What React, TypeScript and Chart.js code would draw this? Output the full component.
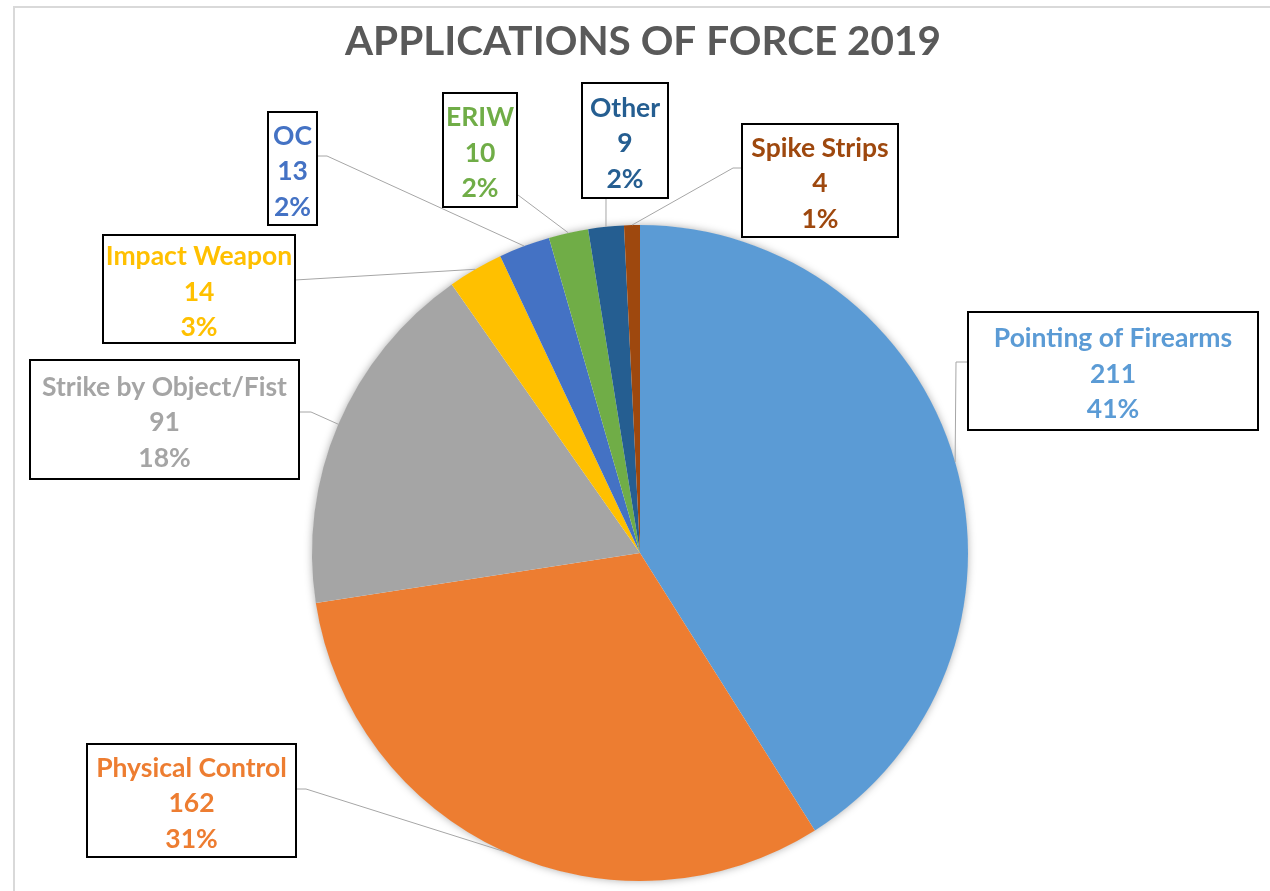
import React, { useEffect, useRef } from "react";
import { Chart, registerables } from "chart.js";

Chart.register(...registerables);

const title = "APPLICATIONS OF FORCE 2019";
const categories = [
  "Pointing of Firearms",
  "Physical Control",
  "Strike by Object/Fist",
  "Impact Weapon",
  "OC",
  "ERIW",
  "Other",
  "Spike Strips",
];
const counts = [211, 162, 91, 14, 13, 10, 9, 4];
const percentLabels = ["41%", "31%", "18%", "3%", "2%", "2%", "2%", "1%"];
const colors = [
  "#5B9BD5",
  "#ED7D31",
  "#A5A5A5",
  "#FFC000",
  "#4472C4",
  "#70AD47",
  "#255E91",
  "#9E480E",
];

// label box layout (position of each callout box and its leader start / elbow)
const labelLayout = [
  { x: 968, y: 312, w: 290, h: 118, from: [968, 362], elbow: [956, 362] },
  { x: 87, y: 744, w: 209, h: 113, from: [296, 789], elbow: [306, 789] },
  { x: 30, y: 360, w: 269, h: 119, from: [299, 412], elbow: [311, 412] },
  { x: 103, y: 235, w: 192, h: 108, from: [295, 280], elbow: null },
  { x: 268, y: 112, w: 49, h: 113, from: [317, 156], elbow: [327, 156] },
  { x: 443, y: 93, w: 74, h: 114, from: [518, 195], elbow: null },
  { x: 582, y: 83, w: 86, h: 115, from: [606, 198], elbow: null },
  { x: 742, y: 124, w: 156, h: 113, from: [742, 168], elbow: [733, 168] },
];

const FONT = "Lato, 'Open Sans', sans-serif";

const decorPlugin = {
  id: "decor",
  beforeDatasetsDraw(chart: any) {
    const meta = chart.getDatasetMeta(0);
    const arc = meta.data[0];
    if (!arc) return;
    const { x, y, outerRadius } = arc.getProps(["x", "y", "outerRadius"], true);
    const ctx = chart.ctx;
    ctx.save();
    ctx.shadowColor = "rgba(0,0,0,0.35)";
    ctx.shadowBlur = 9;
    ctx.fillStyle = "#ffffff";
    ctx.beginPath();
    ctx.arc(x, y, outerRadius - 0.5, 0, Math.PI * 2);
    ctx.fill();
    ctx.restore();
  },
  afterDraw(chart: any) {
    const ctx = chart.ctx;
    ctx.save();
    // frame
    ctx.strokeStyle = "#d9d9d9";
    ctx.lineWidth = 2;
    ctx.beginPath();
    ctx.moveTo(14, chart.height);
    ctx.lineTo(14, 7);
    ctx.lineTo(chart.width, 7);
    ctx.stroke();

    // title
    ctx.fillStyle = "#595959";
    ctx.font = `bold 40.5px ${FONT}`;
    ctx.textAlign = "center";
    ctx.textBaseline = "alphabetic";
    ctx.fillText(title, 643, 55);

    const meta = chart.getDatasetMeta(0);
    meta.data.forEach((arc: any, i: number) => {
      const L = labelLayout[i];
      const p = arc.getProps(["x", "y", "startAngle", "endAngle", "outerRadius"], true);
      const mid = (p.startAngle + p.endAngle) / 2;
      const ax = p.x + Math.cos(mid) * p.outerRadius;
      const ay = p.y + Math.sin(mid) * p.outerRadius;
      // leader line
      ctx.strokeStyle = "#a6a6a6";
      ctx.lineWidth = 1;
      ctx.beginPath();
      ctx.moveTo(L.from[0], L.from[1]);
      if (L.elbow) ctx.lineTo(L.elbow[0], L.elbow[1]);
      ctx.lineTo(ax, ay);
      ctx.stroke();
      // box
      ctx.fillStyle = "#ffffff";
      ctx.fillRect(L.x, L.y, L.w, L.h);
      ctx.strokeStyle = "#000000";
      ctx.lineWidth = 2;
      ctx.strokeRect(L.x, L.y, L.w, L.h);
      // text
      const lines = [categories[i], String(counts[i]), percentLabels[i]];
      ctx.fillStyle = colors[i];
      ctx.font = `bold 26.5px ${FONT}`;
      ctx.textAlign = "center";
      ctx.textBaseline = "middle";
      const cx = L.x + L.w / 2;
      const cy = L.y + L.h / 2 + 3;
      const lh = 35.5;
      lines.forEach((t, k) => {
        ctx.fillText(t, cx, cy + (k - 1) * lh);
      });
    });
    ctx.restore();
  },
};

export default function App() {
  const ref = useRef<HTMLCanvasElement | null>(null);
  useEffect(() => {
    if (!ref.current) return;
    const chart = new Chart(ref.current, {
      type: "pie",
      data: {
        labels: categories,
        datasets: [
          {
            data: counts,
            backgroundColor: colors,
            borderWidth: 0,
          },
        ],
      },
      options: {
        animation: false,
        responsive: false,
        maintainAspectRatio: false,
        layout: { padding: { left: 312, right: 302, top: 225, bottom: 10 } },
        plugins: {
          legend: { display: false },
          title: { display: false },
          tooltip: { enabled: false },
        },
      },
      plugins: [decorPlugin],
    });
    return () => chart.destroy();
  }, []);
  return (
    <div style={{ position: "absolute", left: 0, top: 0, width: 1270, height: 891, background: "#fff" }}>
      <canvas ref={ref} width={1270} height={891} style={{ display: "block" }} />
    </div>
  );
}
